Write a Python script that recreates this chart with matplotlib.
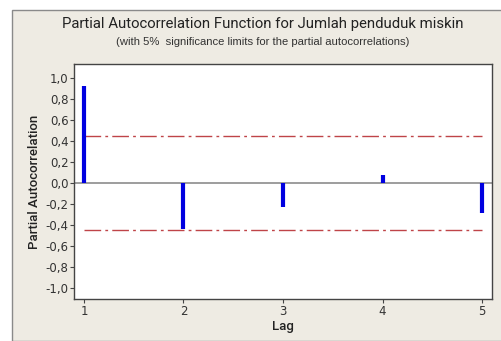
import matplotlib
matplotlib.use('Agg')
import matplotlib.pyplot as plt
from matplotlib.patches import Rectangle

# data
lags = [1, 2, 3, 4, 5]
pacf = [0.92, -0.44, -0.23, 0.07, -0.29]
limit = 0.447
yticks = [1.0, 0.8, 0.6, 0.4, 0.2, 0.0, -0.2, -0.4, -0.6, -0.8, -1.0]

bg = '#eeebe3'
fig = plt.figure(figsize=(5.02, 3.41), dpi=100)
fig.patch.set_facecolor('white')

# window panel
fig.patches.append(Rectangle((12/502, 0), 1, 1 - 10/341, transform=fig.transFigure,
                             facecolor=bg, edgecolor='#8a8a8a', lw=1, zorder=-5))

ax = fig.add_axes([74/502, 1 - 299/341, 418/502, 235/341])
ax.set_zorder(2)
ax.set_facecolor('white')

ax.axhline(0, color='#8c8c8c', lw=1.2, zorder=1)
ax.vlines(lags, 0, pacf, color='#0000e0', lw=3, zorder=3)
ax.plot([lags[0], lags[-1]], [limit, limit], color='#bf4448', lw=1,
        dashes=[12, 3, 2, 3], zorder=2)
ax.plot([lags[0], lags[-1]], [-limit, -limit], color='#bf4448', lw=1,
        dashes=[12, 3, 2, 3], zorder=2)

ax.set_xlim(0.9, 5.1)
ax.set_ylim(-1.105, 1.13)
ax.set_xticks(lags)
ax.set_xticklabels([str(l) for l in lags])
ax.set_yticks(yticks)
ax.set_yticklabels([('%.1f' % v).replace('.', ',') for v in yticks])
ax.tick_params(labelsize=8.5, length=3, pad=1, color='#444444', labelcolor='#333333')
for s in ax.spines.values():
    s.set_color('#444444')
    s.set_linewidth(1)

ax.set_xlabel('Lag', fontsize=9.5, color='#222222', labelpad=2, family='Roboto',
              fontweight='medium')
ax.set_ylabel('Partial Autocorrelation', fontsize=9.5, color='#222222', labelpad=3,
              family='Roboto', fontweight='medium')

fig.text(263/502, 1 - 24/341, 'Partial Autocorrelation Function for Jumlah penduduk miskin',
         ha='center', va='center', fontsize=10.7, family='Roboto', color='#222222')
fig.text(263/502, 1 - 42/341, '(with 5%  significance limits for the partial autocorrelations)',
         ha='center', va='center', fontsize=8.1, family='Liberation Sans', color='#333333')

fig.savefig('out.png', dpi=100, facecolor=fig.get_facecolor())
